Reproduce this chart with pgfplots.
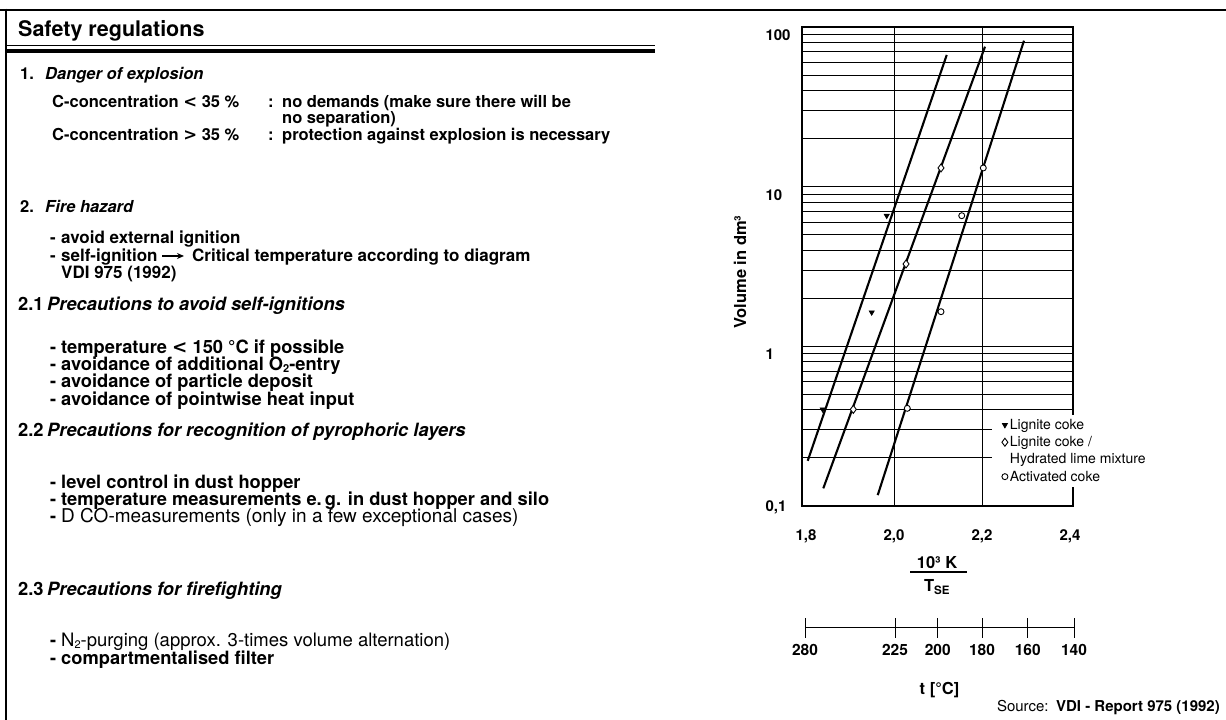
\documentclass[border=0pt]{standalone}
\usepackage{pgfplots}
\pgfplotsset{compat=1.18}
\usetikzlibrary{arrows.meta}
\usepackage{fontspec}
\setmainfont{TeX Gyre Heros}
\newfontfamily\dejavu{DejaVu Sans}
\newcommand{\bodyfont}{\fontsize{16.5}{18}\selectfont\bfseries}
\newcommand{\bigfont}{\fontsize{18.3}{19}\selectfont\bfseries}
\newcommand{\midfont}{\fontsize{17}{18}\selectfont\bfseries}
\newcommand{\sub}[1]{\raisebox{-2pt}{\fontsize{11}{11}\selectfont #1}}
\newcommand{\tx}[3]{\node[anchor=base west,inner sep=0pt,font=\bodyfont] at (#1,#2) {#3};}
\newcommand{\tb}[3]{\node[anchor=base west,inner sep=0pt,font=\bigfont] at (#1,#2) {#3};}
\newcommand{\tm}[3]{\node[anchor=base west,inner sep=0pt,font=\midfont] at (#1,#2) {#3};}

\begin{document}
\begin{tikzpicture}[x=1pt,y=1pt]
\useasboundingbox (0,0) rectangle (1226,720);
% frame
\draw[line width=2.5pt] (0,710) -- (1226,710);
\draw[line width=2.5pt] (6,711.25) -- (6,0);
% title rule
\draw[line width=1pt] (6,674.3) -- (655,674.3);
\fill (6,667) rectangle (655,671);

% ---------- text panel ----------
\tx{18}{683}{\fontsize{21.5}{22}\selectfont Safety regulations}
\tx{20}{640}{1.} \tx{45}{640}{\itshape Danger of explosion}
\tx{52}{612}{C-concentration {\dejavu\bfseries <} 35 \%} \tx{268}{612}{:} \tx{282}{612}{no demands (make sure there will be}
\tx{282}{596}{no separation)}
\tx{52}{579}{C-concentration {\dejavu\bfseries >} 35 \%} \tx{268}{579}{:} \tx{282}{579}{protection against explosion is necessary}
\tx{20}{507}{2.} \tx{45}{507}{\itshape Fire hazard}
\tm{50}{476}{-} \tm{61}{476}{avoid external ignition}
\tm{50}{458}{-} \tm{61}{458}{self-ignition}
\draw[line width=1.4pt, -{Stealth[length=7pt,width=6pt]}] (162,464) -- (184,464);
\tm{192}{458}{Critical temperature according to diagram}
\tm{61}{441}{VDI 975 (1992)}
\tb{18}{409}{2.1} \tb{47}{409}{\itshape Precautions to avoid self-ignitions}
\tb{50}{366}{-} \tb{61}{366}{temperature {\dejavu\bfseries <} 150 °C if possible}
\tb{50}{349}{-} \tb{61}{349}{avoidance of additional O\sub{2}-entry}
\tb{50}{332}{-} \tb{61}{332}{avoidance of particle deposit}
\tb{50}{314}{-} \tb{61}{314}{avoidance of pointwise heat input}
\tb{18}{283}{2.2} \tb{47}{283}{\itshape Precautions for recognition of pyrophoric layers}
\tb{50}{231}{-} \tb{61}{231}{level control in dust hopper}
\tb{50}{214}{-} \tb{61}{214}{temperature measurements e.\,g. in dust hopper and silo}
\tb{50}{197}{-}
\node[anchor=base west,inner sep=0pt,font=\fontsize{19}{20}\selectfont] at (61,197) {D CO-measurements (only in a few exceptional cases)};
\tb{18}{124}{2.3} \tb{47}{124}{\itshape Precautions for firefighting}
\tb{50}{73}{-}
\node[anchor=base west,inner sep=0pt,font=\fontsize{18.5}{19}\selectfont] at (61,73) {N\sub{2}-purging (approx. 3-times volume alternation)};
\tb{50}{55}{-} \tb{61}{55}{compartmentalised filter}

% ---------- chart ----------
\begin{axis}[
  at={(802pt,214pt)}, anchor=south west,
  scale only axis, width=271pt, height=479pt,
  xmin=1.7909, xmax=2.4068,
  ymode=log, ymin=0.1, ymax=100,
  xtick={1.8,2.0,2.2,2.4}, xticklabels={{1,8},{2,0},{2,2},{2,4}},
  ytick={0.1,1,10,100}, yticklabels={{\raisebox{7.4pt}{0,1}},1,10,100},
  minor ytick={0.2,0.3,0.4,0.5,0.6,0.7,0.8,0.9,2,3,4,5,6,7,8,9,20,30,40,50,60,70,80,90},
  extra x ticks={2.0,2.2}, extra x tick labels={},
  extra x tick style={grid=major},
  ymajorgrids=true, yminorgrids=true,
  major tick length=0pt, minor tick length=0pt,
  major grid style={black, line width=0.9pt},
  minor grid style={black, line width=0.9pt},
  axis line style={line width=1.3pt},
  ticklabel style={font=\bfseries\fontsize{15}{15}\selectfont},
  yticklabel style={anchor=base west, xshift=-40pt, yshift=-13.4pt},
  xticklabel style={yshift=-20pt},
  legend cell align=left,
  legend image code/.code={\draw[#1] plot coordinates {(0pt,0pt)};},
  legend style={at={(0.70,0.19)}, anchor=north west, draw=none, fill=white,
    inner xsep=10pt, inner ysep=3pt, row sep=3.5pt,
    nodes={inner ysep=1pt},
    font=\fontsize{14}{15}\selectfont},
]
% regression lines
\addplot[line width=2.1pt, forget plot] coordinates {(1.8039,0.192) (2.1198,66.8)};
\addplot[line width=2.1pt, forget plot] coordinates {(1.8393,0.129) (2.2068,75.3)};
\addplot[line width=2.1pt, forget plot] coordinates {(1.9630,0.117) (2.2954,82.1)};
% measured points
\addplot[only marks, mark=triangle*, mark size=3pt, mark options={rotate=180, fill=black, line width=0.6pt}]
  coordinates {(1.9834,6.58) (1.9493,1.633) (1.8379,0.403)};
\addlegendentry{Lignite coke}
\addplot[only marks, mark=diamond*, mark size=4pt, mark options={fill=white, line width=0.9pt}]
  coordinates {(2.1068,13.1) (2.0273,3.28) (1.9075,0.403)};
\addlegendentry{Lignite coke /}
\addlegendimage{empty legend}
\addlegendentry{Hydrated lime mixture}
\addplot[only marks, mark=*, mark size=3pt, mark options={fill=white, line width=0.9pt}]
  coordinates {(2.2029,13.1) (2.1539,6.58) (2.1068,1.648) (2.0302,0.409)};
\addlegendentry{Activated coke}
\end{axis}

% y-axis title and x-axis fraction label
\node[rotate=90, font=\bodyfont] at (740,448) {Volume in dm³};
\node[font=\bodyfont] at (937,157) {10³ K};
\draw[line width=1.6pt] (910,148) -- (967,148);
\node[font=\bodyfont] at (937,133) {T\textsubscript{SE}};

% temperature scale
\begin{axis}[
  at={(805pt,92.3pt)}, anchor=south west,
  scale only axis, width=269pt, height=10pt,
  xmin=1.7977, xmax=2.4091, ymin=0, ymax=1,
  hide y axis, axis x line=bottom,
  axis line style={-, line width=1pt},
  xtick={1.7977,2.0023,2.0993,2.2,2.3039,2.4091},
  xticklabels={280,225,200,180,160,140},
  xtick align=center, major tick length=20pt,
  tick style={black, line width=1pt},
  ticklabel style={font=\bfseries\fontsize{15.5}{16}\selectfont},
  xticklabel style={yshift=-3pt},
]
\end{axis}
\node[font=\bodyfont] at (939.5,30) {t [°C]};
\node[anchor=base east, inner sep=0pt, font=\fontsize{15}{16}\selectfont] at (1220,8) {Source:\enspace\textbf{VDI - Report 975 (1992)}};
\end{tikzpicture}
\end{document}
